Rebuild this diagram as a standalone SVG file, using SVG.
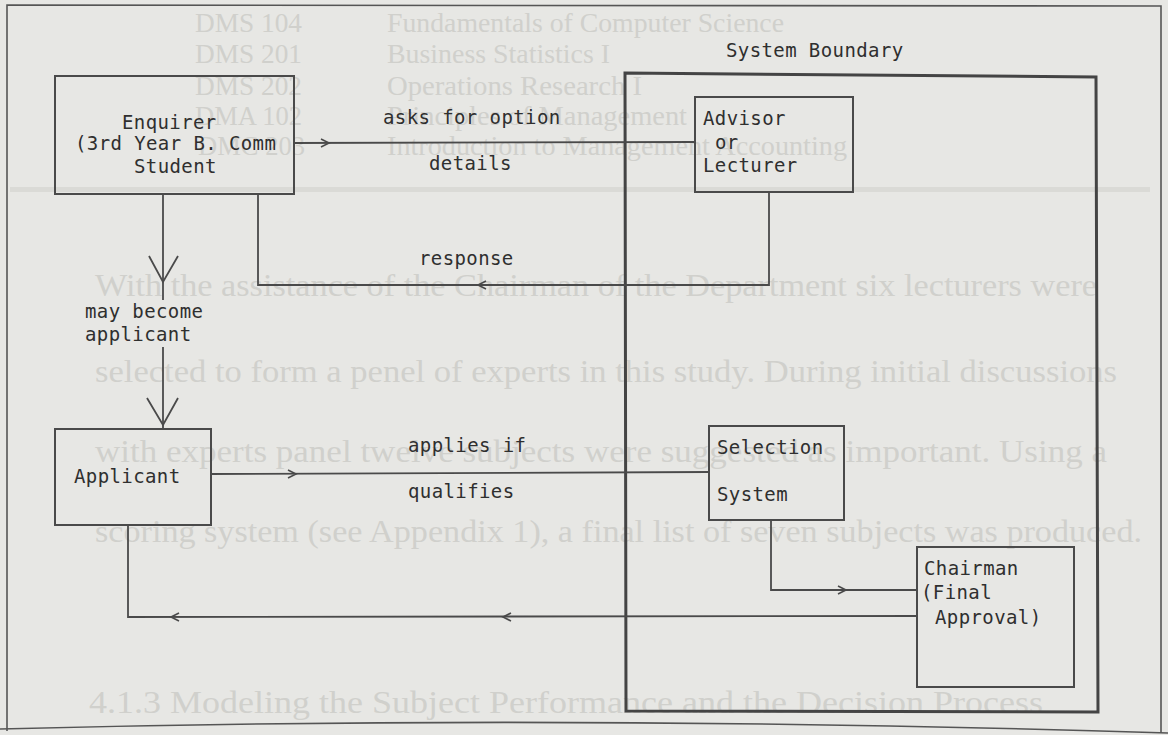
<svg xmlns="http://www.w3.org/2000/svg" width="1168" height="735" viewBox="0 0 1168 735">
<style>
.bg{fill:#e7e7e4}
.ghost{font-family:"Liberation Serif","Times New Roman",serif;fill:#d0d0cc}
.g1{font-size:28px}
.g2{font-size:31px}
.lbl{font-family:"DejaVu Sans Mono","Liberation Mono",monospace;font-size:19px;letter-spacing:0.4px;fill:#2f2f2f}
.box{fill:none;stroke:#4a4a4a;stroke-width:2}
.line{fill:none;stroke:#4a4a4a;stroke-width:1.8}
.chev{fill:none;stroke:#4a4a4a;stroke-width:1.6}
.frame{fill:none;stroke:#555;stroke-width:1.6}
.sb{fill:none;stroke:#444;stroke-width:3}
</style>
<rect class="bg" x="0" y="0" width="1168" height="735"/>
<g id="bleed-through">
<text class="ghost g1" x="195" y="32" textLength="107" lengthAdjust="spacingAndGlyphs">DMS 104</text>
<text class="ghost g1" x="387" y="32" textLength="397" lengthAdjust="spacingAndGlyphs">Fundamentals of Computer Science</text>
<text class="ghost g1" x="195" y="63" textLength="107" lengthAdjust="spacingAndGlyphs">DMS 201</text>
<text class="ghost g1" x="387" y="63" textLength="223" lengthAdjust="spacingAndGlyphs">Business Statistics I</text>
<text class="ghost g1" x="195" y="95" textLength="107" lengthAdjust="spacingAndGlyphs">DMS 202</text>
<text class="ghost g1" x="387" y="95" textLength="255" lengthAdjust="spacingAndGlyphs">Operations Research I</text>
<text class="ghost g1" x="195" y="125" textLength="107" lengthAdjust="spacingAndGlyphs">DMA 102</text>
<text class="ghost g1" x="387" y="125" textLength="300" lengthAdjust="spacingAndGlyphs">Principles of Management</text>
<text class="ghost g1" x="198" y="155" textLength="107" lengthAdjust="spacingAndGlyphs">DMC 203</text>
<text class="ghost g1" x="387" y="155" textLength="460" lengthAdjust="spacingAndGlyphs">Introduction to Management Accounting</text>
<rect x="10" y="187" width="1140" height="5" fill="#dadad6"/>
<text class="ghost g2" x="95" y="296" textLength="1002" lengthAdjust="spacingAndGlyphs">With the assistance of the Chairman of the Department six lecturers were</text>
<text class="ghost g2" x="95" y="382" textLength="1022" lengthAdjust="spacingAndGlyphs">selected to form a penel of experts in this study.  During initial discussions</text>
<text class="ghost g2" x="95" y="462" textLength="1012" lengthAdjust="spacingAndGlyphs">with experts panel twelve subjects were suggested as important.  Using a</text>
<text class="ghost g2" x="95" y="542" textLength="1047" lengthAdjust="spacingAndGlyphs">scoring system (see Appendix 1), a final list of seven subjects was produced.</text>
<text class="ghost g2" x="89" y="713" textLength="954" lengthAdjust="spacingAndGlyphs">4.1.3   Modeling the Subject Performance and the Decision Process</text>
</g>
<g id="frame">
<path class="frame" d="M7,731 L7,5 L1161,6 L1161,733"/>
<path class="frame" d="M0,729 Q560,714 1168,733"/>
</g>
<g id="system-boundary">
<path class="sb" d="M625,73 L1096,77 L1098,712 L626,711 Z"/>
<text class="lbl" x="726" y="57">System Boundary</text>
</g>
<g id="connectors">
<path class="line" d="M294,143 L695,142"/>
<polyline class="chev" points="321,139 329,143 321,147"/>
<path class="line" d="M769,192 L769,285 L258,285 L258,195"/>
<polyline class="chev" points="486,281 478,285 486,289"/>
<path class="line" d="M163,195 L163,300"/>
<polyline class="line" points="149,256 163,282 178,256"/>
<path class="line" d="M163,347 L163,428"/>
<polyline class="line" points="147,398 163,425 178,398"/>
<path class="line" d="M211,474 L709,472"/>
<polyline class="chev" points="288,470 296,474 288,478"/>
<path class="line" d="M771,520 L771,590 L917,590"/>
<polyline class="chev" points="838,586 846,590 838,594"/>
<path class="line" d="M917,616 L128,617 L128,525"/>
<polyline class="chev" points="511,613 503,617 511,621"/>
<polyline class="chev" points="179,613 171,617 179,621"/>
<text class="lbl" x="383" y="124">asks for option</text>
<text class="lbl" x="429" y="170">details</text>
<text class="lbl" x="419" y="265">response</text>
<text class="lbl" x="85" y="318">may become</text>
<text class="lbl" x="85" y="341">applicant</text>
<text class="lbl" x="408" y="452">applies if</text>
<text class="lbl" x="408" y="498">qualifies</text>
</g>
<g id="enquirer">
<rect class="box" x="55" y="76" width="239" height="118"/>
<text class="lbl" x="122" y="129">Enquirer</text>
<text class="lbl" x="75" y="150">(3rd Year B. Comm</text>
<text class="lbl" x="134" y="173">Student</text>
</g>
<g id="advisor">
<rect class="box" x="695" y="97" width="158" height="95"/>
<text class="lbl" x="703" y="125">Advisor</text>
<text class="lbl" x="715" y="149">or</text>
<text class="lbl" x="703" y="172">Lecturer</text>
</g>
<g id="applicant">
<rect class="box" x="55" y="429" width="156" height="96"/>
<text class="lbl" x="74" y="483">Applicant</text>
</g>
<g id="selection-system">
<rect class="box" x="709" y="426" width="135" height="94"/>
<text class="lbl" x="717" y="454">Selection</text>
<text class="lbl" x="717" y="501">System</text>
</g>
<g id="chairman">
<rect class="box" x="917" y="547" width="157" height="140"/>
<text class="lbl" x="924" y="575">Chairman</text>
<text class="lbl" x="921" y="599">(Final</text>
<text class="lbl" x="935" y="624">Approval)</text>
</g>
</svg>
